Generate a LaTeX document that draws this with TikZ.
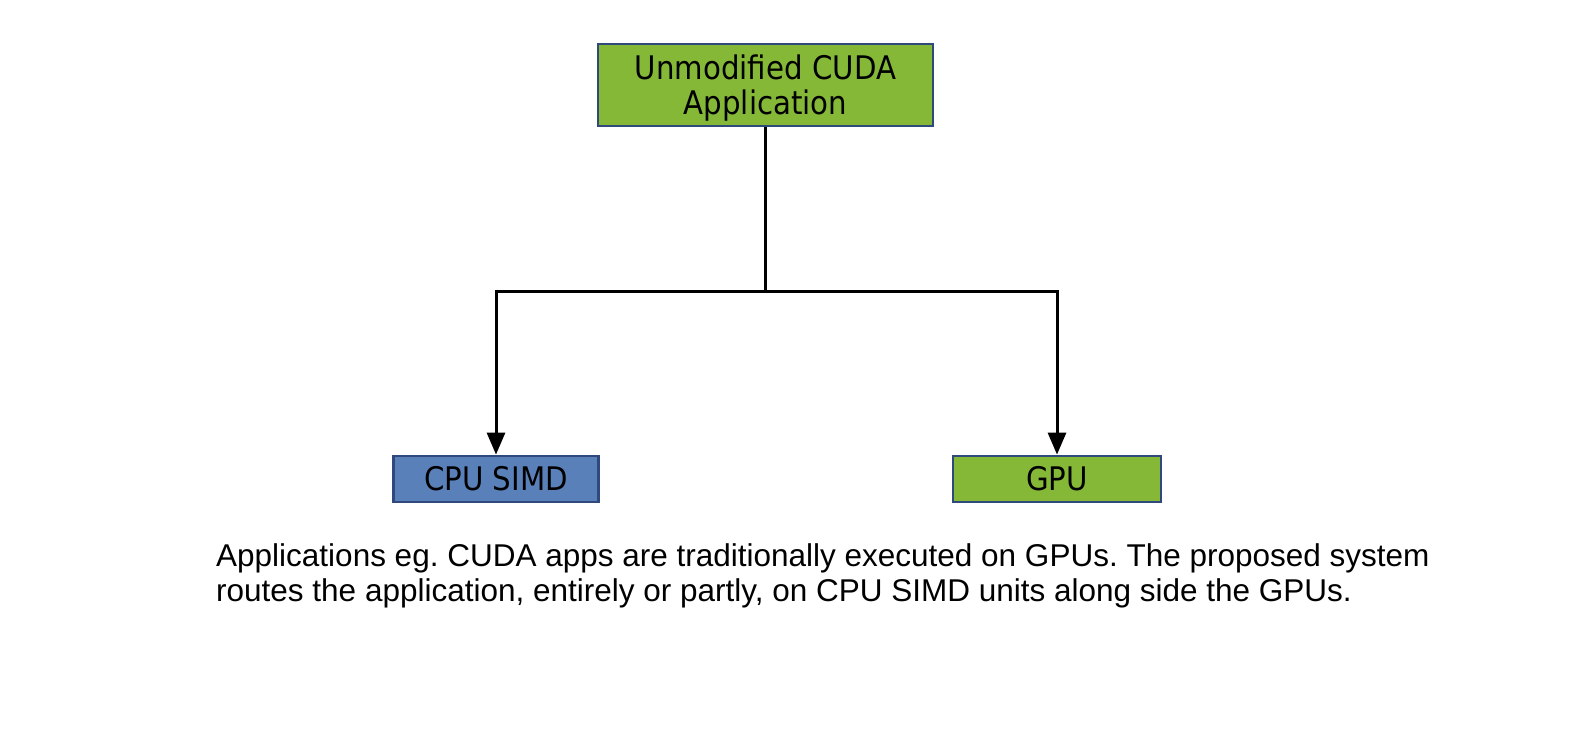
\documentclass[tikz,border=0pt]{standalone}
\usepackage{fontspec}
\setmainfont{Liberation Sans}
\newfontfamily\boxfont{DejaVu Sans Condensed}
\usetikzlibrary{arrows.meta}
\definecolor{nvgreen}{RGB}{133,184,55}
\definecolor{cpublue}{RGB}{90,128,186}
\definecolor{boxborder}{RGB}{47,73,124}
\tikzset{
  unit/.style={draw=boxborder, line width=2.8pt, inner sep=0pt, align=center,
    font=\boxfont\fontsize{32.5}{32}\selectfont, text=black},
  conn/.style={line width=3pt, draw=black},
  arr/.style={conn, -{Triangle[length=22pt,width=18pt]}},
  caption/.style={anchor=base west, inner sep=0pt, font=\frenchspacing\fontsize{31.5}{35}\selectfont}
}
\begin{document}
\begin{tikzpicture}[x=1pt,y=-1pt]
\useasboundingbox[fill=white] (0,0) rectangle (1588,754);
\node[unit, fill=nvgreen, minimum width=335pt, minimum height=82pt] (app) at (765.5,85) {\raisebox{-4.5pt}[\height][\depth]{\begin{tabular}{@{}c@{}}Unmodified CUDA\\Application\end{tabular}}};
\node[unit, fill=cpublue, minimum width=205pt, minimum height=46pt] (cpu) at (496,479) {CPU SIMD};
\node[unit, fill=nvgreen, minimum width=208pt, minimum height=46pt] (gpu) at (1057,479) {GPU};
\coordinate (split) at (765.5,291);
\draw[conn] (app.south) -- (split);
\draw[arr] (split) -| (cpu.north);
\draw[arr] (split) -| (gpu.north);
\node[caption] (line1) at (216,566.5) {Applications eg. CUDA apps are traditionally executed on GPUs. The proposed system};
\node[caption] (line2) at (216,601) {routes the application, entirely or partly, on CPU SIMD units along side the GPUs.};
\end{tikzpicture}
\end{document}
